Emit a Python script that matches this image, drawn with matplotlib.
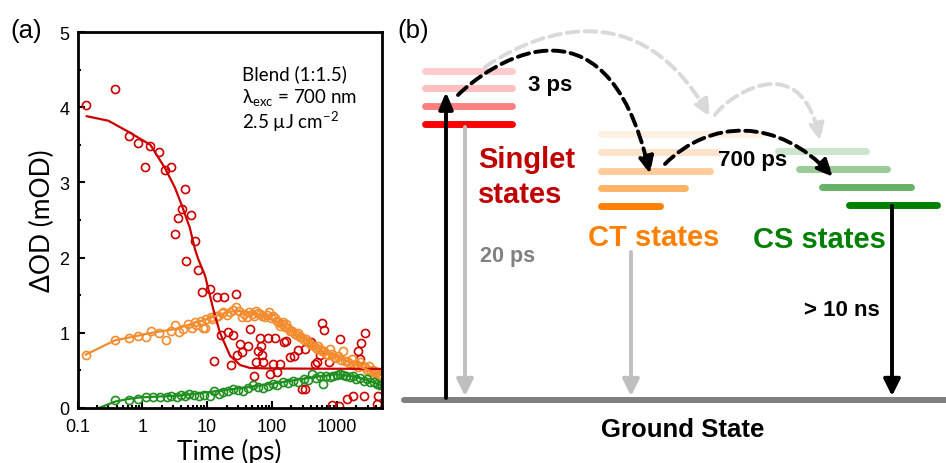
import numpy as np
import matplotlib
matplotlib.use('Agg')
import matplotlib.pyplot as plt
from matplotlib.path import Path
from matplotlib.patches import FancyArrowPatch
from matplotlib.ticker import FixedLocator, LogLocator, NullFormatter, MultipleLocator

plt.rcParams['font.family'] = ['Liberation Sans', 'DejaVu Sans']
plt.rcParams['mathtext.fontset'] = 'dejavusans'

# ---------------- panel (a): transient absorption kinetics ----------------
red_t = [0.134, 0.379, 0.623, 0.867, 1.11, 1.33, 1.83, 2.24, 2.74, 3.17, 3.6, 4.08,
         4.62, 4.8, 5.6, 6.5, 7.3, 8.2, 11.1, 14.4, 18.5, 27.6, 12.6, 16.2, 20.8,
         23.1, 25.4, 29, 32, 35, 43, 46.5, 53, 56, 60, 64.6, 68.6, 70, 74, 88, 93,
         105, 113, 121, 133, 152, 168, 190, 219, 251, 288, 320, 319, 400, 465, 500,
         550, 600, 640, 770, 837, 1100, 1125, 1427, 1800, 2130, 2300, 2400, 2600,
         2735, 4150, 4400]
red_v = [4.03, 4.24, 3.62, 3.53, 3.20, 3.49, 3.40, 3.17, 3.20, 2.31, 2.52, 2.65,
         2.91, 1.95, 2.57, 2.22, 1.84, 1.54, 1.58, 1.48, 1.48, 1.52, 0.625, 0.97, 1.01,
         0.57, 0.97, 0.70, 0.85, 0.75, 0.83, 1.05, 0.43, 0.616, 0.76, 0.935, 0.83, 0.70,
         0.616, 0.935, 0.45, 0.59, 0.93, 0.48, 0.59, 0.88, 0.895, 0.68, 0.695, 0.77,
         0.25, 0.25, 0.785, 0.88, 0.585, 0.61, 0.705, 1.13, 1.04, 0.61, 0.04, 0.03,
         0.92, 0.12, 0.16, 0.76, 0.65, 0.87, 0.16, 1.0, 0.05, 0.16]

orange_t = [0.134, 0.38, 0.62, 0.87, 1.14, 1.37, 1.83, 2.3, 2.77, 3.2, 3.68, 4.2,
            5.0, 5.8, 6.5, 6.7, 8.0, 8.7, 9.2, 9.5, 11.6, 11.8, 14, 14.9, 16.8, 17.8,
            20, 22.5, 25, 27.8, 31, 34, 37, 41, 45, 48.7, 53, 57, 61, 66, 71, 79, 85,
            91, 97, 104, 110, 118, 125, 133, 141, 150, 160, 168, 178, 190, 205, 228,
            240, 255, 270, 285, 310, 335, 360, 385, 420, 465, 490, 520, 550, 585, 640,
            690, 730, 780, 840, 910, 980, 1060, 1150, 1260, 1350, 1430, 1550, 1700,
            1850, 2000, 2150, 2300, 2500, 2780, 2950, 3150, 3400, 3670, 3900, 4170,
            4400, 4700, 5000]
orange_v = [0.71, 0.90, 0.935, 0.96, 0.95, 1.02, 1.0, 0.91, 1.03, 1.10, 1.01, 1.05,
            1.12, 1.07, 1.14, 1.10, 1.16, 1.07, 1.07, 1.18, 1.21, 1.18, 1.23, 1.23, 1.26,
            1.27, 1.24, 1.28, 1.30, 1.34, 1.29, 1.21, 1.25, 1.21, 1.27, 1.25, 1.22, 1.29,
            1.26, 1.25, 1.23, 1.21, 1.24, 1.27, 1.20, 1.23, 1.20, 1.16, 1.14, 1.09, 1.12,
            1.14, 1.08, 1.12, 1.06, 1.03, 1.02, 0.985, 0.97, 1.0, 0.95, 0.94, 0.90, 0.92,
            0.88, 0.85, 0.84, 0.81, 0.79, 0.83, 0.78, 0.76, 0.76, 0.72, 0.70, 0.785, 0.72,
            0.675, 0.66, 0.695, 0.64, 0.76, 0.62, 0.63, 0.60, 0.65, 0.57, 0.585, 0.55,
            0.61, 0.56, 0.54, 0.51, 0.56, 0.49, 0.50, 0.46, 0.475, 0.44, 0.45, 0.43]

green_t = [0.38, 0.63, 0.85, 1.13, 1.47, 1.88, 2.4, 2.8, 3.4, 3.9, 4.6, 5.2, 6.3,
           7.5, 9.1, 11, 12.9, 15.3, 17.8, 21, 25.5, 30, 36, 43, 51.7, 60, 74, 88,
           104, 120, 150, 175, 215, 250, 310, 360, 410, 480, 550, 610, 680, 780, 880,
           1000, 1130, 1260, 1400, 1600, 1800, 2000, 2300, 2600, 2900, 3300, 3700,
           4170, 4700, 5000]
green_v = [0.10, 0.11, 0.12, 0.14, 0.14, 0.14, 0.14, 0.165, 0.14, 0.17, 0.155, 0.185,
           0.17, 0.165, 0.17, 0.165, 0.23, 0.185, 0.21, 0.22, 0.25, 0.24, 0.23, 0.26,
           0.30, 0.28, 0.26, 0.29, 0.32, 0.30, 0.34, 0.33, 0.36, 0.35, 0.385, 0.37, 0.45,
           0.40, 0.43, 0.32, 0.42, 0.41, 0.43, 0.44, 0.45, 0.44, 0.42, 0.41, 0.43, 0.385,
           0.40, 0.36, 0.38, 0.35, 0.34, 0.32, 0.30, 0.31]

# fitted curves
red_fit_t = [0.139, 0.299, 0.62, 1.33, 2.24, 3.19, 4.05, 5.4, 6.5, 7.3, 9.3, 12.4,
             15.8, 22.6, 32.3, 46, 100, 5000]
red_fit_v = [3.88, 3.82, 3.67, 3.50, 3.19, 2.93, 2.70, 2.40, 2.11, 1.98, 1.76, 1.32,
             1.00, 0.695, 0.572, 0.532, 0.525, 0.52]
orange_fit_t = [0.134, 0.38, 0.65, 1.4, 3.2, 8.2, 16.8, 22, 30, 50, 100, 150, 215,
                300, 435, 600, 890, 1300, 1800, 2600, 3670, 5000]
orange_fit_v = [0.71, 0.90, 0.94, 1.0, 1.05, 1.16, 1.25, 1.28, 1.29, 1.27, 1.19,
                1.10, 1.01, 0.93, 0.83, 0.76, 0.695, 0.64, 0.585, 0.53, 0.475, 0.44]
green_fit_t = [0.2, 0.3, 0.38, 0.6, 0.92, 2, 3.8, 12.5, 41, 133, 435, 1000, 1800,
               3000, 5000]
green_fit_v = [-0.01, 0.05, 0.085, 0.12, 0.14, 0.155, 0.165, 0.22, 0.275, 0.34, 0.41,
               0.45, 0.42, 0.37, 0.30]

x_ticks = [0.1, 1, 10, 100, 1000]
x_ticklabels = ['0.1', '1', '10', '100', '1000']

c_red, c_orange, c_green = '#cc0000', '#f28c2e', '#1f8f1f'

fig = plt.figure(figsize=(9.46, 4.64), dpi=100)
ax = fig.add_axes([77.5 / 946, 1 - 409 / 464, (381.7 - 77.5) / 946, (409 - 33) / 464])

mk = dict(ls='none', marker='o', mfc='none', ms=5.8, mew=1.2)
ax.plot(red_t, red_v, mec=c_red, **mk)
ax.plot(orange_t, orange_v, mec=c_orange, **mk)
ax.plot(green_t, green_v, mec=c_green, **mk)
ax.plot(red_fit_t, red_fit_v, color=c_red, lw=1.6)
ax.plot(orange_fit_t, orange_fit_v, color=c_orange, lw=1.6)
ax.plot(green_fit_t, green_fit_v, color=c_green, lw=1.6)

ax.set_xscale('log')
ax.set_xlim(0.1, 4950)
ax.set_ylim(0, 5)
ax.xaxis.set_major_locator(FixedLocator(x_ticks))
ax.set_xticklabels(x_ticklabels)
ax.xaxis.set_minor_locator(LogLocator(base=10, subs=np.arange(2, 10)))
ax.xaxis.set_minor_formatter(NullFormatter())
ax.yaxis.set_major_locator(MultipleLocator(1))
ax.yaxis.set_minor_locator(MultipleLocator(0.5))
ax.tick_params(which='both', direction='in', labelsize=13, width=1.5)
ax.tick_params(which='major', length=5)
ax.tick_params(axis='x', which='major', pad=7)
ax.tick_params(axis='y', which='major', pad=6)
ax.tick_params(which='minor', length=2.5)
for s in ax.spines.values():
    s.set_linewidth(2)

lab_font = ['Lato', 'DejaVu Sans']
ax.set_xlabel('Time (ps)', fontsize=19, family=lab_font, labelpad=2)
ax.set_ylabel('ΔOD (mOD)', fontsize=19, family=lab_font, labelpad=3)

ax.text(0.54, 0.89, 'Blend (1:1.5)', transform=ax.transAxes, fontsize=13.5,
        family=lab_font, va='center')
ax.text(0.54, 0.825, r'λ$_{\mathregular{exc}}$ = 700 nm', transform=ax.transAxes,
        fontsize=13.5, family=lab_font, va='center')
ax.text(0.54, 0.765, r'2.5 µJ cm$^{\mathregular{-2}}$', transform=ax.transAxes,
        fontsize=13.5, family=lab_font, va='center')

fig.text(10 / 946, 1 - 31 / 464, '(a)', fontsize=18.5, va='center')

# ---------------- panel (b): energy level diagram (pixel coordinates) -------
singlet_y = [71.7, 89.3, 107.3, 125.3]
singlet_x = [425, 512]
singlet_colors = ['#ffcccc', '#ffbfbf', '#ff8080', '#ff0000']

ct_y = [135, 153.3, 171.7, 189.3, 207.3]
ct_x0 = 601
ct_x1 = [760, 718, 710, 685, 660]
ct_colors = ['#fef1e4', '#fde3cc', '#ffcc99', '#ffb366', '#ff8000']

cs_y = [152.3, 170.3, 188.3, 206]
cs_x0 = [778, 799, 822, 849]
cs_x1 = [866, 887, 911, 937]
cs_colors = ['#cce5cc', '#99cc99', '#66b266', '#008000']

ground_y = 401
ground_x = [404, 946]

axd = fig.add_axes([395 / 946, 0, 551 / 946, 1])
axd.set_xlim(395, 946)
axd.set_ylim(464, 0)
axd.axis('off')

lev = dict(lw=5, solid_capstyle='round')
for y, c in zip(singlet_y, singlet_colors):
    axd.plot(singlet_x, [y, y], color=c, **lev)
for y, x1, c in zip(ct_y, ct_x1, ct_colors):
    axd.plot([ct_x0, x1], [y, y], color=c, **lev)
for y, x0, x1, c in zip(cs_y, cs_x0, cs_x1, cs_colors):
    axd.plot([x0, x1], [y, y], color=c, **lev)
axd.plot(ground_x, [ground_y, ground_y], color='#808080', lw=4.3,
         solid_capstyle='round', zorder=1)


def vert_arrow(x, y0, y1, color, hl, hw):
    axd.annotate('', xy=(x, y1), xytext=(x, y0),
                 arrowprops=dict(arrowstyle='-|>,head_length=%g,head_width=%g' % (hl, hw),
                                 color=color, lw=2.8, shrinkA=0, shrinkB=0,
                                 mutation_scale=10))


vert_arrow(446, 399, 93, 'black', 1.0, 0.42)
vert_arrow(465, 128, 397, '#bfbfbf', 1.0, 0.5)
vert_arrow(631, 253, 397, '#bfbfbf', 1.0, 0.5)
vert_arrow(892, 207, 397, 'black', 1.0, 0.5)


def dashed_arc(p0, c1, c2, p3, color, z):
    path = Path([p0, c1, c2, p3], [Path.MOVETO, Path.CURVE4, Path.CURVE4, Path.CURVE4])
    arr = FancyArrowPatch(path=path, arrowstyle='-|>,head_length=1.0,head_width=0.45',
                          mutation_scale=10, color=color, lw=2.8,
                          linestyle=(0, (3.0, 1.6)), zorder=z)
    axd.add_patch(arr)


gray = '#d9d9d9'
dashed_arc((485, 68), (517, 46), (631, -20), (710, 118), gray, 2)
dashed_arc((715, 116), (724, 101), (800, 44), (820, 142), gray, 2)
dashed_arc((458, 96), (484, 70), (605, -21), (650, 175), 'black', 3)
dashed_arc((665, 165), (710, 120), (778, 118), (833, 178), 'black', 3)

bold = dict(fontweight='bold')
axd.text(527.7, 90.7, '3 ps', fontsize=16, **bold)
axd.text(718.3, 165.7, '700 ps', fontsize=16, **bold)
axd.text(478.3, 168.3, 'Singlet', fontsize=21, color='#c00000', **bold)
axd.text(478.3, 203.3, 'states', fontsize=21, color='#c00000', **bold)
axd.text(587.7, 246, 'CT states', fontsize=21, color='#ff8000', **bold)
axd.text(753.3, 248.3, 'CS states', fontsize=21, color='#008000', **bold)
axd.text(480, 261.7, '20 ps', fontsize=15.5, color='#808080', **bold)
axd.text(804, 316, '> 10 ns', fontsize=16, **bold)
axd.text(682.5, 436.7, 'Ground State', fontsize=18.5, ha='center', **bold)
axd.text(397, 31, '(b)', fontsize=18.5, va='center')

fig.savefig('out.png', dpi=100)
